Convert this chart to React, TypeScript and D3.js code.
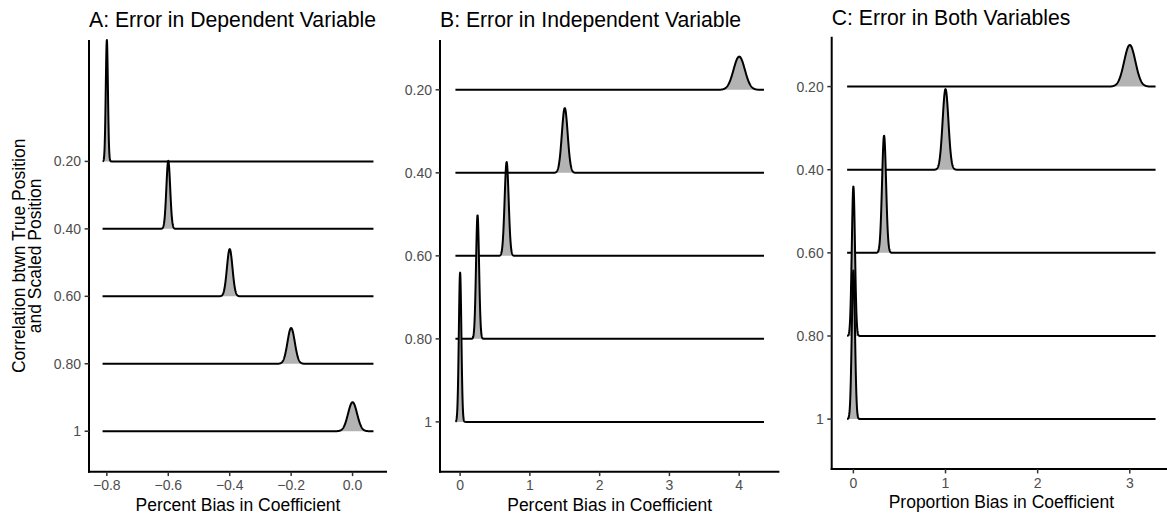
import React, { useEffect, useRef } from "react";
import * as d3 from "d3";

// ridge levels, top to bottom
const levels = ["0.20", "0.40", "0.60", "0.80", "1"];

// A: error in dependent variable
const meansA = [-0.8, -0.6, -0.4, -0.2, 0.0];
const sdsA = [0.0035, 0.0062, 0.009, 0.0119, 0.0147];
const peaksA = [1.8, 1.01, 0.7, 0.53, 0.43];
const spanA = [-0.814, 0.068];
const ticksA = [-0.8, -0.6, -0.4, -0.2, 0.0];

// B: error in independent variable
const meansB = [4.0, 1.5, 0.667, 0.25, 0.0];
const sdsB = [0.081, 0.0415, 0.0287, 0.0217, 0.018];
const peaksB = [0.4, 0.78, 1.13, 1.49, 1.8];
const spanB = [-0.067, 4.355];
const ticksB = [0, 1, 2, 3, 4];

// C: error in both variables
const meansC = [3.0, 1.0, 0.333, 0.0, 0.0];
const sdsC = [0.061, 0.0315, 0.0217, 0.017, 0.0171];
const peaksC = [0.5, 0.97, 1.41, 1.8, 1.79];
const spanC = [-0.068, 3.28];
const ticksC = [0, 1, 2, 3];

const FONT = "'Liberation Sans', Arial, sans-serif";

export default function App() {
  const ref = useRef<SVGSVGElement>(null);

  useEffect(() => {
    const svg = d3.select(ref.current);
    svg.selectAll("*").remove();

    const panels = [
      { title: "A: Error in Dependent Variable", xlab: "Percent Bias in Coefficient",
        means: meansA, sds: sdsA, peaks: peaksA, span: spanA, ticks: ticksA, fmt: d3.format(".1f"),
        left: 89, right: 387, top: 40, bottom: 471.7, ytop: 6.8, titleY: 26.5, xlabY: 511 },
      { title: "B: Error in Independent Variable", xlab: "Percent Bias in Coefficient",
        means: meansB, sds: sdsB, peaks: peaksB, span: spanB, ticks: ticksB, fmt: d3.format("d"),
        left: 440, right: 779.4, top: 40, bottom: 471.7, ytop: 5.6, titleY: 26.5, xlabY: 511 },
      { title: "C: Error in Both Variables", xlab: "Proportion Bias in Coefficient",
        means: meansC, sds: sdsC, peaks: peaksC, span: spanC, ticks: ticksC, fmt: d3.format("d"),
        left: 831.7, right: 1171, top: 36.7, bottom: 469, ytop: 5.6, titleY: 25, xlabY: 508 },
    ];

    panels.forEach((p) => {
      const g = svg.append("g");
      const w = p.span[1] - p.span[0];
      const x = d3.scaleLinear()
        .domain([p.span[0] - 0.05 * w, p.span[1] + 0.05 * w])
        .range([p.left, p.right]);
      // discrete levels: "1" sits at 1, "0.20" at 5
      const y = d3.scaleLinear().domain([0.4, p.ytop]).range([p.bottom, p.top]);

      const grid = d3.range(0, 1501).map((i) => p.span[0] + (w * i) / 1500);

      levels.forEach((lev, i) => {
        const pos = levels.length - i;
        const m = p.means[i], s = p.sds[i], h = p.peaks[i];
        const pts = grid.map((v) => [v, pos + h * Math.exp(-0.5 * ((v - m) / s) ** 2)]);

        const area = d3.area<number[]>()
          .x((d) => x(d[0]))
          .y0(y(pos))
          .y1((d) => y(d[1]));
        const line = d3.line<number[]>()
          .x((d) => x(d[0]))
          .y((d) => y(d[1]));

        g.append("path").attr("d", area(pts)).attr("fill", "#b3b3b3");
        g.append("path").attr("d", line(pts))
          .attr("fill", "none").attr("stroke", "#000").attr("stroke-width", 2)
          .attr("stroke-linejoin", "round");
      });

      // axes
      g.append("line").attr("x1", p.left).attr("x2", p.left)
        .attr("y1", p.top).attr("y2", p.bottom + 1)
        .attr("stroke", "#000").attr("stroke-width", 2);
      g.append("line").attr("x1", p.left - 1).attr("x2", p.right)
        .attr("y1", p.bottom).attr("y2", p.bottom)
        .attr("stroke", "#000").attr("stroke-width", 2);

      levels.forEach((lev, i) => {
        const yy = y(levels.length - i);
        g.append("line").attr("x1", p.left - 4.4).attr("x2", p.left)
          .attr("y1", yy).attr("y2", yy).attr("stroke", "#333").attr("stroke-width", 1.5);
        g.append("text").attr("x", p.left - 8).attr("y", yy + 5)
          .attr("text-anchor", "end").attr("font-family", FONT).attr("font-size", 14)
          .attr("fill", "#4d4d4d").text(lev);
      });

      p.ticks.forEach((t) => {
        const xx = x(t);
        g.append("line").attr("x1", xx).attr("x2", xx)
          .attr("y1", p.bottom).attr("y2", p.bottom + 4.4)
          .attr("stroke", "#333").attr("stroke-width", 1.5);
        g.append("text").attr("x", xx).attr("y", p.bottom + 18.5)
          .attr("text-anchor", "middle").attr("font-family", FONT).attr("font-size", 14)
          .attr("fill", "#4d4d4d").text(p.fmt(t));
      });

      g.append("text").attr("x", p.left).attr("y", p.titleY)
        .attr("font-family", FONT).attr("font-size", 21.2).attr("fill", "#000")
        .text(p.title);
      g.append("text").attr("x", (p.left + Math.min(p.right, 1167)) / 2 + (p.right > 1167 ? 2 : 0))
        .attr("y", p.xlabY)
        .attr("text-anchor", "middle").attr("font-family", FONT).attr("font-size", 17.5)
        .attr("fill", "#000").text(p.xlab);
    });

    // y axis title
    const cy = (40 + 471.7) / 2;
    const yt = svg.append("text")
      .attr("transform", `translate(0,${cy}) rotate(-90)`)
      .attr("text-anchor", "middle").attr("font-family", FONT).attr("font-size", 17.5)
      .attr("fill", "#000");
    yt.append("tspan").attr("x", 0).attr("y", 25).text("Correlation btwn True Position");
    yt.append("tspan").attr("x", 0).attr("y", 40.5).text("and Scaled Position");
  }, []);

  return (
    <svg ref={ref} width={1167} height={517}
      style={{ position: "absolute", left: 0, top: 0, background: "#fff" }} />
  );
}
